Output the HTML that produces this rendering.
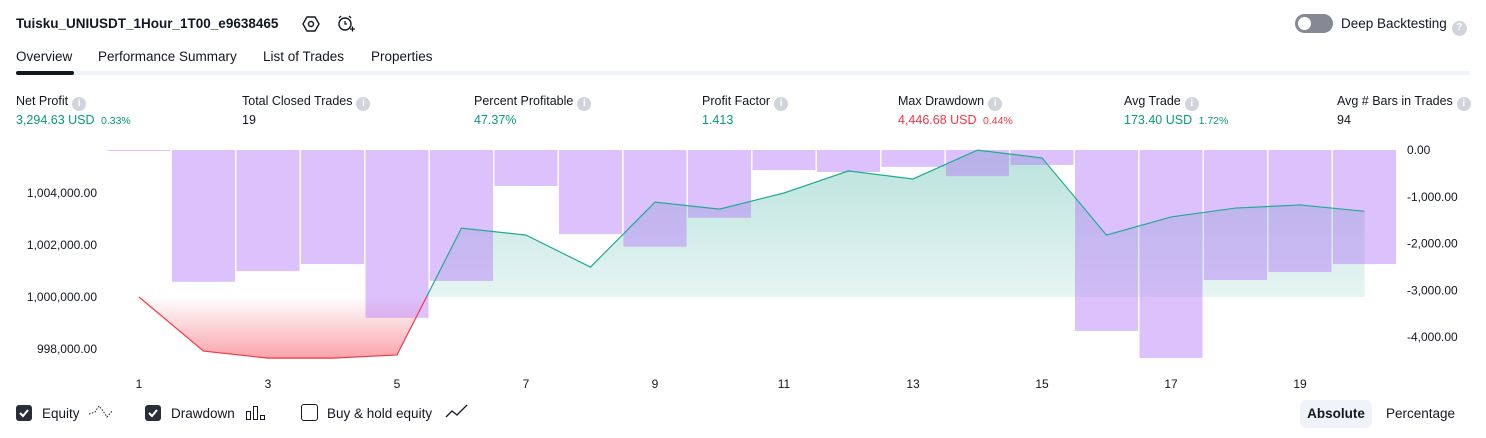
<!DOCTYPE html>
<html><head><meta charset="utf-8">
<style>
body{margin:0;width:1486px;height:438px;background:#fff;font-family:"Liberation Sans",sans-serif;color:#131722;overflow:hidden;position:relative}
.a{position:absolute;white-space:nowrap}
.info{display:inline-block;width:14px;height:14px;border-radius:50%;background:#d1d4dc;color:#fff;font-size:10px;text-align:center;line-height:14px;font-weight:bold;vertical-align:-1px;margin-left:4px}
.lbl{font-size:12.5px;color:#131722}
.val{font-size:12.5px}
.g{color:#089981}.r{color:#f23645}
.cb{position:absolute;width:16px;height:16px;border-radius:3px;top:405px}
</style></head><body>
<div class="a" style="left:16px;top:16px;font-size:13.5px;font-weight:bold">Tuisku_UNIUSDT_1Hour_1T00_e9638465</div>
<svg class="a" style="left:302px;top:15px" width="18" height="18"><polygon points="5,2 13,2 17,9 13,16 5,16 1,9" fill="none" stroke="#131722" stroke-width="1.4"/><circle cx="9" cy="9" r="2.5" fill="none" stroke="#131722" stroke-width="1.4"/></svg>
<svg class="a" style="left:336px;top:14px" width="20" height="20"><circle cx="9" cy="10" r="6" fill="none" stroke="#131722" stroke-width="1.4"/><path d="M9 7v3h2M3 4l2-2M15 4l-2-2M14 15h5M16.5 12.5v5" stroke="#131722" stroke-width="1.3" fill="none"/></svg>
<div class="a" style="left:1295px;top:14px;width:38px;height:19px;border-radius:10px;background:#868993"><div style="position:absolute;left:3px;top:3px;width:13px;height:13px;border-radius:50%;background:#fff"></div></div>
<div class="a" style="left:1341px;top:16px;font-size:13.5px">Deep Backtesting<span class="info" style="width:15px;height:15px;margin-left:5px;vertical-align:-2px">?</span></div>

<div class="a" style="left:16px;top:49px;font-size:13.5px">Overview</div>
<div class="a" style="left:98px;top:49px;font-size:13.5px">Performance Summary</div>
<div class="a" style="left:263px;top:49px;font-size:13.5px">List of Trades</div>
<div class="a" style="left:371px;top:49px;font-size:13.5px">Properties</div>
<div class="a" style="left:16px;top:71px;width:1454px;height:4px;background:#f0f3fa;border-radius:2px"></div>
<div class="a" style="left:16px;top:71px;width:58px;height:4px;background:#131722;border-radius:2px"></div>

<div class="a" style="left:16px;top:94px"><div class="lbl">Net Profit<span class="info">i</span></div><div class="val g" style="margin-top:2px">3,294.63 USD <span style="font-size:10.5px;margin-left:3px">0.33%</span></div></div>
<div class="a" style="left:242px;top:94px"><div class="lbl">Total Closed Trades<span class="info">i</span></div><div class="val" style="margin-top:2px">19</div></div>
<div class="a" style="left:474px;top:94px"><div class="lbl">Percent Profitable<span class="info">i</span></div><div class="val g" style="margin-top:2px">47.37%</div></div>
<div class="a" style="left:702px;top:94px"><div class="lbl">Profit Factor<span class="info">i</span></div><div class="val g" style="margin-top:2px">1.413</div></div>
<div class="a" style="left:898px;top:94px"><div class="lbl">Max Drawdown<span class="info">i</span></div><div class="val r" style="margin-top:2px">4,446.68 USD <span style="font-size:10.5px;margin-left:3px">0.44%</span></div></div>
<div class="a" style="left:1124px;top:94px"><div class="lbl">Avg Trade<span class="info">i</span></div><div class="val g" style="margin-top:2px">173.40 USD <span style="font-size:10.5px;margin-left:3px">1.72%</span></div></div>
<div class="a" style="left:1337px;top:94px"><div class="lbl">Avg # Bars in Trades<span class="info">i</span></div><div class="val" style="margin-top:2px">94</div></div>

<svg id="chart" class="a" style="left:0;top:0" width="1486" height="395"></svg>

<div class="cb" style="left:16px;background:#2a2e39"><svg width="16" height="16"><path d="M4 8l3 3 5-6" stroke="#fff" stroke-width="2" fill="none"/></svg></div>
<div class="a" style="left:42px;top:406px;font-size:13.5px">Equity</div>
<svg class="a" style="left:88px;top:404px" width="26" height="16"><path d="M1 10l6-2 4-6 4 5 4 6 5-6" stroke="#131722" stroke-dasharray="1.5 1.5" fill="none"/></svg>
<div class="cb" style="left:145px;background:#2a2e39"><svg width="16" height="16"><path d="M4 8l3 3 5-6" stroke="#fff" stroke-width="2" fill="none"/></svg></div>
<div class="a" style="left:171px;top:406px;font-size:13.5px">Drawdown</div>
<svg class="a" style="left:245px;top:405px" width="22" height="16"><rect x="1.5" y="6.5" width="4" height="8" fill="none" stroke="#131722"/><rect x="8.5" y="1.5" width="4" height="13" fill="none" stroke="#131722"/><rect x="15.5" y="10.5" width="4" height="4" fill="none" stroke="#131722"/></svg>
<div class="cb" style="left:301px;border:1px solid #131722;width:15px;height:15px;top:404px"></div>
<div class="a" style="left:327px;top:406px;font-size:13.5px">Buy &amp; hold equity</div>
<svg class="a" style="left:445px;top:404px" width="24" height="16"><path d="M1 13l6-6 5 4 10-10" stroke="#131722" stroke-width="1.3" fill="none"/></svg>
<div class="a" style="left:1300px;top:400px;width:72px;height:28px;border-radius:6px;background:#f0f3fa;font-size:13.5px;font-weight:bold;text-align:center;line-height:28px">Absolute</div>
<div class="a" style="left:1386px;top:406px;font-size:13.5px">Percentage</div>

<script>
const trades=[1,2,3,4,5,6,7,8,9,10,11,12,13,14,15,16,17,18,19,20];
const equity=[1000000,997920,997650,997650,997770,1002650,1002380,1001150,1003650,1003380,1004000,1004850,1004540,1005650,1005350,1002380,1003080,1003420,1003540,1003294.63];
const drawdown=[-20,-2820,-2590,-2440,-3590,-2800,-770,-1800,-2070,-1450,-430,-470,-360,-560,-320,-3870,-4450,-2780,-2610,-2440];
const leftTicks=[1004000,1002000,1000000,998000];
const rightTicks=[0,-1000,-2000,-3000,-4000];
const xTicks=[1,3,5,7,9,11,13,15,17,19];
const baseEq=1000000;

const NS="http://www.w3.org/2000/svg";
const svg=document.getElementById('chart');
const x=i=>139+(i-1)*64.5;
const yL=v=>297-(v-1000000)*0.026;
const yR=v=>150-v*0.04675;
function mk(t,a){const e=document.createElementNS(NS,t);for(const k in a)e.setAttribute(k,a[k]);svg.appendChild(e);return e;}
const fmt=v=>v.toLocaleString('en-US',{minimumFractionDigits:2,maximumFractionDigits:2});

const b=yL(baseEq);
const eqMax=Math.min(...equity.map(yL)), eqMin=Math.max(...equity.map(yL));
const defs=mk('defs',{});
defs.innerHTML='<linearGradient id="gg" gradientUnits="userSpaceOnUse" x1="0" y1="'+eqMax+'" x2="0" y2="'+b+'"><stop offset="0" stop-color="#089981" stop-opacity="0.28"/><stop offset="1" stop-color="#089981" stop-opacity="0.1"/></linearGradient><linearGradient id="rg" gradientUnits="userSpaceOnUse" x1="0" y1="'+b+'" x2="0" y2="'+eqMin+'"><stop offset="0" stop-color="#f23645" stop-opacity="0"/><stop offset="1" stop-color="#f23645" stop-opacity="0.45"/></linearGradient><clipPath id="ca"><rect x="0" y="0" width="1486" height="'+b+'"/></clipPath><clipPath id="cb"><rect x="0" y="'+b+'" width="1486" height="200"/></clipPath>';

let pts=trades.map((t,i)=>x(t)+','+yL(equity[i])).join(' ');
const poly=x(trades[0])+','+b+' '+pts+' '+x(trades[trades.length-1])+','+b;
let p=mk('polygon',{points:poly,fill:'url(#gg)','clip-path':'url(#ca)'});


p=mk('polygon',{points:poly,fill:'url(#rg)','clip-path':'url(#cb)'});



trades.forEach((t,i)=>{
  const r=mk('rect',{x:x(t)-31.5,y:yR(0),width:63,height:Math.max(1,yR(drawdown[i])-yR(0)),fill:'rgba(179,118,248,0.45)'});
  
  
});

let l=mk('polyline',{points:pts,fill:'none',stroke:'#22ab94','stroke-width':1.2,'clip-path':'url(#ca)'});


l=mk('polyline',{points:pts,fill:'none',stroke:'#f23645','stroke-width':1.2,'clip-path':'url(#cb)'});



leftTicks.forEach(v=>{const e=mk('text',{x:97,y:yL(v)+4,'text-anchor':'end','font-size':12,fill:'#131722','font-family':'Liberation Sans, sans-serif'});e.textContent=fmt(v);

});
rightTicks.forEach(v=>{const e=mk('text',{x:1407,y:yR(v)+4,'font-size':12,fill:'#131722','font-family':'Liberation Sans, sans-serif'});e.textContent=fmt(v);

});
xTicks.forEach(v=>{const e=mk('text',{x:x(v),y:388,'text-anchor':'middle','font-size':12,fill:'#131722','font-family':'Liberation Sans, sans-serif'});e.textContent=v;

});
</script>
</body></html>
